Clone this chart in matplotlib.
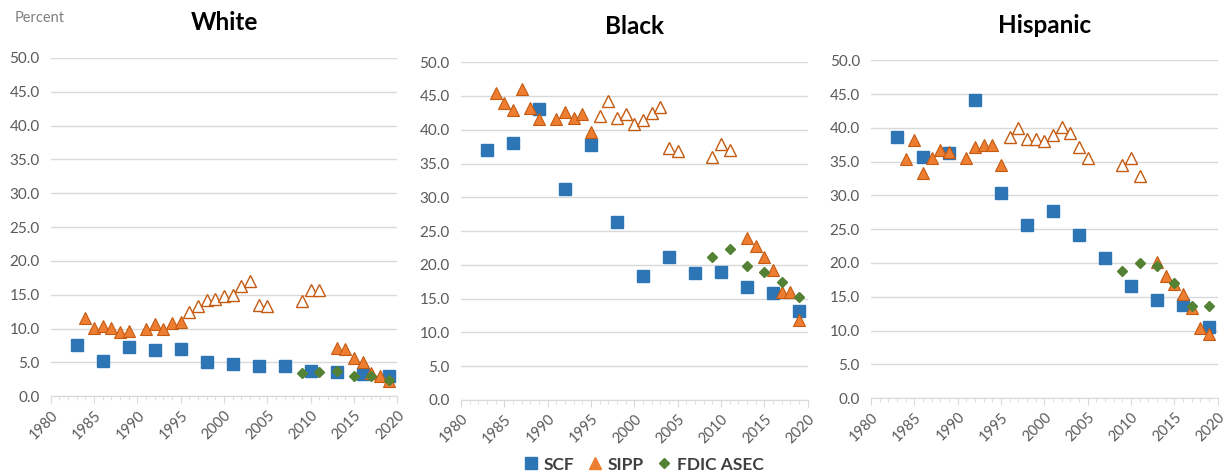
"""Unbanked-household share by race: SCF vs SIPP vs FDIC ASEC, three panels."""
import numpy as np
import matplotlib
matplotlib.use("Agg")
import matplotlib.pyplot as plt
from matplotlib.lines import Line2D

plt.rcParams["font.family"] = ["Lato", "DejaVu Sans"]

panels = ["White", "Black", "Hispanic"]

scf_years = [1983, 1986, 1989, 1992, 1995, 1998, 2001, 2004, 2007, 2010, 2013, 2016, 2019]
scf_white = [7.5, 5.2, 7.3, 6.8, 7.0, 5.0, 4.8, 4.5, 4.5, 3.7, 3.5, 3.3, 3.0]
scf_black = [37.0, 38.0, 43.1, 31.2, 37.7, 26.4, 18.3, 21.2, 18.8, 19.0, 16.7, 15.9, 13.1]
scf_hisp = [38.6, 35.7, 36.3, 44.1, 30.3, 25.6, 27.7, 24.1, 20.8, 16.6, 14.5, 13.8, 10.5]

# SIPP, filled markers
sipp_years = [1984, 1985, 1986, 1987, 1988, 1989, 1991, 1992, 1993, 1994, 1995,
              2013, 2014, 2015, 2016, 2017, 2018, 2019]
sipp_white = [11.5, 10.1, 10.3, 10.1, 9.5, 9.7, 9.9, 10.6, 10.0, 10.8, 10.9,
              7.1, 6.9, 5.6, 5.1, 3.4, 3.0, 2.3]
sipp_black = [45.5, 44.0, 42.9, 46.0, 43.2, 41.6, 41.6, 42.6, 41.7, 42.3, 39.6,
              24.0, 22.8, 21.1, 19.3, 16.0, 16.0, 11.9]
sipp_hisp = [35.4, 38.2, 33.3, 35.6, 36.7, 36.5, 35.6, 37.2, 37.4, 37.4, 34.5,
             20.2, 18.0, 16.9, 15.4, 13.4, 10.3, 9.5]

# SIPP, hollow markers
sipp2_years = [1996, 1997, 1998, 1999, 2000, 2001, 2002, 2003, 2004, 2005, 2009, 2010, 2011]
sipp2_white = [12.5, 13.4, 14.2, 14.4, 14.8, 15.0, 16.3, 17.0, 13.5, 13.3, 14.0, 15.7, 15.7]
sipp2_black = [42.1, 44.3, 41.7, 42.3, 40.9, 41.4, 42.5, 43.3, 37.3, 36.8, 35.9, 37.9, 37.0]
sipp2_hisp = [38.7, 40.0, 38.4, 38.4, 38.0, 38.9, 40.1, 39.3, 37.2, 35.6, 34.5, 35.5, 32.9]

fdic_years = [2009, 2011, 2013, 2015, 2017, 2019]
fdic_white = [3.4, 3.6, 3.7, 3.0, 3.0, 2.4]
fdic_black = [21.2, 22.3, 19.8, 18.9, 17.4, 15.3]
fdic_hisp = [18.8, 20.0, 19.6, 17.1, 13.7, 13.7]

BLUE = "#2E75B6"
ORANGE = "#ED7D31"
ORANGE_EDGE = "#C55A11"
GREEN = "#548235"
GRID = "#D9D9D9"
TXT = "#595959"

series = {
    "White": (scf_white, sipp_white, sipp2_white, fdic_white),
    "Black": (scf_black, sipp_black, sipp2_black, fdic_black),
    "Hispanic": (scf_hisp, sipp_hisp, sipp2_hisp, fdic_hisp),
}
rects = {
    "White": [0.0414, 0.166, 0.283, 0.712],
    "Black": [0.3763, 0.158, 0.283, 0.711],
    "Hispanic": [0.711, 0.162, 0.283, 0.711],
}

fig = plt.figure(figsize=(12.25, 4.75), dpi=100)
for name in panels:
    scf, sipp, sipp2, fdic = series[name]
    ax = fig.add_axes(rects[name])
    ax.plot(scf_years, scf, ls="none", marker="s", ms=8.5, color=BLUE, mec=BLUE, zorder=3)
    ax.plot(sipp_years, sipp, ls="none", marker="^", ms=9, color=ORANGE, mec=ORANGE_EDGE,
            mew=0.8, zorder=4)
    ax.plot(sipp2_years, sipp2, ls="none", marker="^", ms=9, mfc="white", mec=ORANGE_EDGE,
            mew=1.0, zorder=4)
    ax.plot(fdic_years, fdic, ls="none", marker="D", ms=5.5, color=GREEN, mec=GREEN, zorder=5)

    ax.set_xlim(1980, 2020)
    ax.set_ylim(0, 50)
    ax.set_xticks(np.arange(1980, 2021, 5))
    ax.set_xticks(np.arange(1980, 2021, 1), minor=True)
    ax.set_yticks(np.arange(0, 50.1, 5))
    ax.set_yticklabels([f"{v:.1f}" for v in np.arange(0, 50.1, 5)])
    ax.grid(axis="y", color=GRID, lw=1.0)
    ax.set_axisbelow(True)
    for s in ["top", "right", "left"]:
        ax.spines[s].set_visible(False)
    ax.spines["bottom"].set_color(GRID)
    ax.tick_params(axis="y", length=0, pad=8, labelsize=11, labelcolor=TXT)
    ax.tick_params(axis="x", which="major", length=5, color=GRID, labelsize=10.5,
                   labelcolor=TXT, direction="out")
    ax.tick_params(axis="x", which="minor", length=3, color=GRID, direction="out")
    plt.setp(ax.get_xticklabels(), rotation=45, ha="right", rotation_mode="anchor")
    ax.set_title(name, fontsize=17.5, fontweight="bold", pad=20)

fig.text(0.012, 0.962, "Percent", fontsize=10.5, color="#7F7F7F", va="center")

handles = [
    Line2D([], [], ls="none", marker="s", ms=8, color=BLUE, label="SCF"),
    Line2D([], [], ls="none", marker="^", ms=9, color=ORANGE, label="SIPP"),
    Line2D([], [], ls="none", marker="D", ms=5, color=GREEN, label="FDIC ASEC"),
]
leg = fig.legend(handles=handles, loc="center", bbox_to_anchor=(0.523, 0.022), ncol=3,
                 frameon=False, handletextpad=0.0, columnspacing=0.4, handlelength=1.5,
                 prop={"size": 12.5, "weight": "bold"})
for t in leg.get_texts():
    t.set_color("#404040")

fig.savefig("out.png", dpi=100)
